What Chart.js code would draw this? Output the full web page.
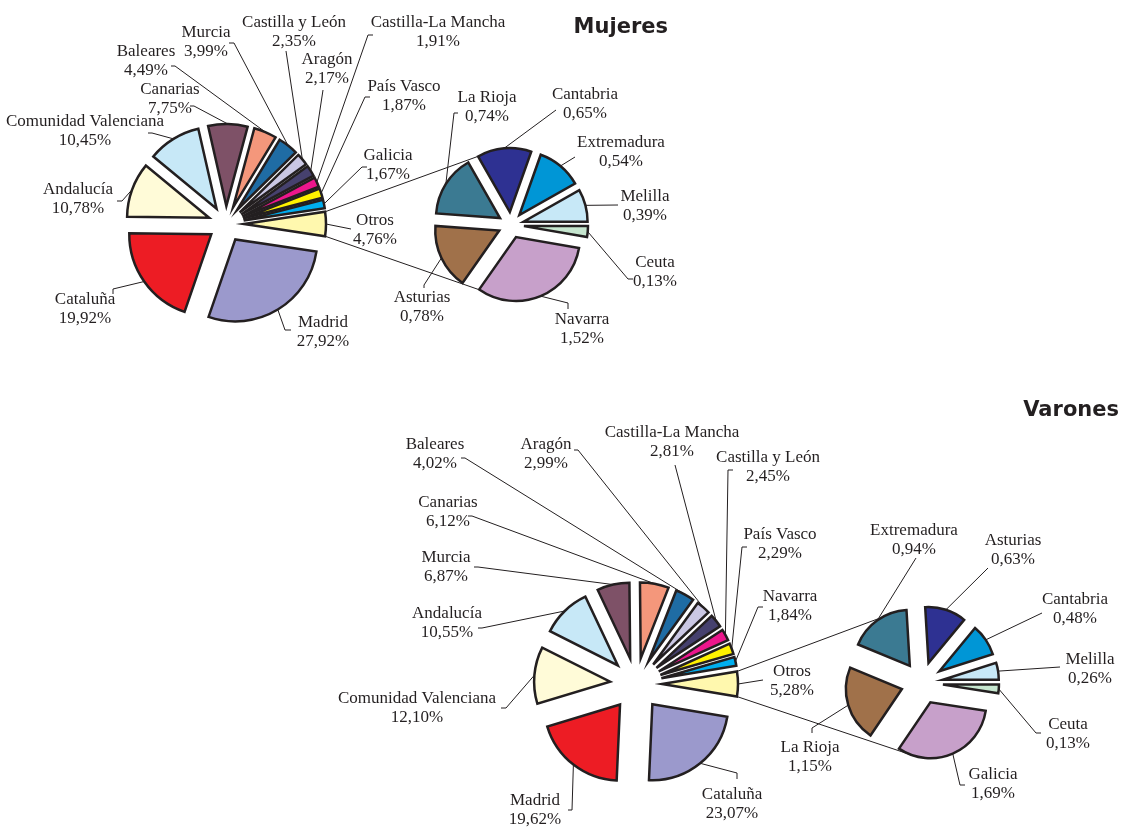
<!DOCTYPE html>
<html><head><meta charset="utf-8">
<script src="https://cdn.jsdelivr.net/npm/chart.js@4.4.1/dist/chart.umd.min.js"></script>
<style>
html,body{margin:0;padding:0;background:#fff;}
#wrap{position:relative;width:1124px;height:831px;overflow:hidden;background:#fff;}
#wrap canvas{position:absolute;left:0;top:0;}
</style></head><body>
<div id="wrap">
<canvas id="c1" width="1124" height="831"></canvas>
<canvas id="c2" width="1124" height="831"></canvas>
<canvas id="c3" width="1124" height="831"></canvas>
<canvas id="c4" width="1124" height="831"></canvas>
</div>
<script>
// ---------- DATA ----------
const mujeresMainLabels = ['Otros','Madrid','Cataluña','Andalucía','Comunidad Valenciana','Canarias','Baleares','Murcia','Castilla y León','Aragón','Castilla-La Mancha','País Vasco','Galicia'];
const mujeresMainValues = [4.76,27.92,19.92,10.78,10.45,7.75,4.49,3.99,2.35,2.17,1.91,1.87,1.67];
const mujeresOtherLabels = ['Ceuta','Navarra','Asturias','La Rioja','Cantabria','Extremadura','Melilla'];
const mujeresOtherValues = [0.13,1.52,0.78,0.74,0.65,0.54,0.39];

const varonesMainLabels = ['Otros','Cataluña','Madrid','Comunidad Valenciana','Andalucía','Murcia','Canarias','Baleares','Aragón','Castilla-La Mancha','Castilla y León','País Vasco','Navarra'];
const varonesMainValues = [5.28,23.07,19.62,12.10,10.55,6.87,6.12,4.02,2.99,2.81,2.45,2.29,1.84];
const varonesOtherLabels = ['Ceuta','Galicia','La Rioja','Extremadura','Asturias','Cantabria','Melilla'];
const varonesOtherValues = [0.13,1.69,1.15,0.94,0.63,0.48,0.26];

const chartTitles = ['Mujeres','Varones'];

// ---------- STYLE ----------
const mainColors = ['#FFF8AE','#9B99CC','#ED1C24','#FFFBD8','#C7E8F7','#7E5167','#F4977B','#1F6CA4','#CAC7E3','#46416E','#EC168C','#FFF200','#00AEEF'];
const otherColors = ['#C6E6CF','#C7A0CA','#A0714A','#3B7A92','#2E3192','#0096D6','#C7E8F7'];
const INK = '#231f20';
const FONT = '17px "Liberation Serif", "Times New Roman", serif';
const LINE = 19;
const W = 1124, H = 831;

const layout = {
  mujeresMain: {cx:226, cy:224, r:82, explode:18, labels:[
    {t:[375,221], e:[351,229], k:[0,0]},
    {t:[323,323], e:[285,330], k:[6,0]},
    {t:[85,300],  e:[113,289], k:[0,5]},
    {t:[78,190],  e:[122,201], k:[-5,0]},
    {t:[85,122],  e:[152,133], k:[-4,0]},
    {t:[170,90],  e:[194,106], k:[-4,0]},
    {t:[146,52],  e:[175,66],  k:[-4,0]},
    {t:[206,33],  e:[234,43],  k:[-5,0]},
    {t:[294,23],  e:[286,51],  k:[0,0]},
    {t:[327,60],  e:[323,90],  k:[0,0]},
    {t:[438,23],  e:[368,35],  k:[5,0]},
    {t:[404,87],  e:[365,97],  k:[5,0]},
    {t:[388,156], e:[362,167], k:[5,0]}
  ]},
  mujeresOther: {cx:511, cy:225, r:64, explode:13, up:241, low:124, labels:[
    {t:[655,263], e:[628,279], k:[5,0]},
    {t:[582,320], e:[568,303], k:[0,6]},
    {t:[422,298], e:[424,285], k:[0,3]},
    {t:[487,98],  e:[454,113], k:[4,0]},
    {t:[585,95],  e:[556,110], k:[0,0]},
    {t:[621,143], e:[575,157], k:[0,0]},
    {t:[645,197], e:[618,205], k:[0,0]}
  ]},
  varonesMain: {cx:636, cy:684, r:76, explode:26, labels:[
    {t:[792,672], e:[763,680], k:[0,0]},
    {t:[732,795], e:[737,773], k:[0,6]},
    {t:[535,801], e:[572,810], k:[-4,0]},
    {t:[417,699], e:[506,708], k:[-5,0]},
    {t:[447,614], e:[482,628], k:[-4,0]},
    {t:[446,558], e:[478,567], k:[-4,0]},
    {t:[448,503], e:[472,516], k:[-4,0]},
    {t:[435,445], e:[465,458], k:[-4,0]},
    {t:[546,445], e:[578,450], k:[-4,0]},
    {t:[672,433], e:[675,465], k:[0,0]},
    {t:[768,458], e:[728,470], k:[5,0]},
    {t:[780,535], e:[742,547], k:[5,0]},
    {t:[790,597], e:[758,607], k:[5,0]}
  ]},
  varonesOther: {cx:922, cy:683, r:56, explode:21, up:240, low:108, labels:[
    {t:[1068,725], e:[1036,733], k:[5,0]},
    {t:[993,775],  e:[960,785],  k:[5,0]},
    {t:[810,748],  e:[812,728],  k:[0,5]},
    {t:[914,531],  e:[916,558],  k:[0,0]},
    {t:[1013,541], e:[988,568],  k:[0,0]},
    {t:[1075,600], e:[1042,613], k:[0,0]},
    {t:[1090,660], e:[1060,667], k:[0,0]}
  ]}
};
const titleLayout = [{x:668, y:33}, {x:1119, y:416}];

const pct = v => v.toFixed(2).replace('.', ',') + '%';

function explodedBase(arc, o) {
  const mid = (arc.startAngle + arc.endAngle) / 2;
  return [arc.x + Math.cos(mid) * o, arc.y + Math.sin(mid) * o];
}

function makeChart(id, labels, values, colors, L, rotation, extra) {
  const S = 100;
  const plugin = {
    id: 'pop_' + id,
    beforeDatasetDraw(chart, args) {
      const ctx = chart.ctx;
      args.meta.data.forEach(arc => {
        const mid = (arc.startAngle + arc.endAngle) / 2;
        ctx.save();
        ctx.translate(Math.cos(mid) * L.explode, Math.sin(mid) * L.explode);
        arc.draw(ctx);
        ctx.restore();
      });
      return false;
    },
    afterDraw(chart) {
      const ctx = chart.ctx;
      const arcs = chart.getDatasetMeta(0).data;
      ctx.save();
      ctx.strokeStyle = INK; ctx.lineWidth = 1;
      arcs.forEach((arc, i) => {
        const lb = L.labels[i];
        const mid = (arc.startAngle + arc.endAngle) / 2;
        const rr = L.explode + arc.outerRadius;
        ctx.beginPath();
        ctx.moveTo(arc.x + Math.cos(mid) * rr, arc.y + Math.sin(mid) * rr);
        ctx.lineTo(lb.e[0], lb.e[1]);
        ctx.lineTo(lb.e[0] + lb.k[0], lb.e[1] + lb.k[1]);
        ctx.stroke();
      });
      ctx.fillStyle = INK; ctx.font = FONT; ctx.textAlign = 'center'; ctx.textBaseline = 'middle';
      arcs.forEach((arc, i) => {
        const lb = L.labels[i];
        ctx.fillText(labels[i], lb.t[0], lb.t[1]);
        ctx.fillText(pct(values[i]), lb.t[0], lb.t[1] + LINE);
      });
      if (extra) extra(chart, ctx);
      ctx.restore();
    }
  };
  return new Chart(document.getElementById(id), {
    type: 'pie',
    data: { labels: labels, datasets: [{ data: values, backgroundColor: colors, borderColor: INK, borderWidth: 2.5, borderJoinStyle: 'miter' }] },
    options: {
      responsive: false, animation: false, devicePixelRatio: 1, events: [],
      rotation: rotation, radius: L.r,
      layout: { padding: { left: L.cx - S, right: W - L.cx - S, top: L.cy - S, bottom: H - L.cy - S } },
      plugins: { legend: { display: false }, tooltip: { enabled: false }, title: { display: false } }
    },
    plugins: [plugin]
  });
}

function connectors(mainChart, Lm, Ls) {
  return (chart, ctx) => {
    const otros = mainChart.getDatasetMeta(0).data[0];
    const b = explodedBase(otros, Lm.explode);
    const r = otros.outerRadius;
    const cUp = [b[0] + Math.cos(otros.startAngle) * r, b[1] + Math.sin(otros.startAngle) * r];
    const cLow = [b[0] + Math.cos(otros.endAngle) * r, b[1] + Math.sin(otros.endAngle) * r];
    const arcs = chart.getDatasetMeta(0).data;
    const pointAt = deg => {
      let a = deg * Math.PI / 180;
      let arc = arcs.find(el => {
        let s = el.startAngle, e = el.endAngle;
        let aa = a; while (aa < s) aa += 2 * Math.PI; while (aa >= s + 2 * Math.PI) aa -= 2 * Math.PI;
        return aa >= s && aa < e;
      }) || arcs[0];
      const bb = explodedBase(arc, Ls.explode);
      return [bb[0] + Math.cos(a) * arc.outerRadius, bb[1] + Math.sin(a) * arc.outerRadius];
    };
    const pUp = pointAt(Ls.up), pLow = pointAt(Ls.low);
    ctx.strokeStyle = INK; ctx.lineWidth = 1;
    ctx.beginPath(); ctx.moveTo(cUp[0], cUp[1]); ctx.lineTo(pUp[0], pUp[1]); ctx.stroke();
    ctx.beginPath(); ctx.moveTo(cLow[0], cLow[1]); ctx.lineTo(pLow[0], pLow[1]); ctx.stroke();
  };
}

function mainRotation(values) {
  const tot = values.reduce((a, b) => a + b, 0);
  return 90 - values[0] / tot * 180;
}

const titlesDraw = (chart, ctx) => {
  ctx.fillStyle = INK; ctx.font = 'bold 21px "DejaVu Sans", Verdana, sans-serif';
  ctx.textAlign = 'right'; ctx.textBaseline = 'alphabetic';
  chartTitles.forEach((t, i) => ctx.fillText(t, titleLayout[i].x, titleLayout[i].y));
};

const mMain = makeChart('c1', mujeresMainLabels, mujeresMainValues, mainColors, layout.mujeresMain, mainRotation(mujeresMainValues), titlesDraw);
const mOther = makeChart('c2', mujeresOtherLabels, mujeresOtherValues, otherColors, layout.mujeresOther, 90, connectors(mMain, layout.mujeresMain, layout.mujeresOther));
const vMain = makeChart('c3', varonesMainLabels, varonesMainValues, mainColors, layout.varonesMain, mainRotation(varonesMainValues), null);
const vOther = makeChart('c4', varonesOtherLabels, varonesOtherValues, otherColors, layout.varonesOther, 90, connectors(vMain, layout.varonesMain, layout.varonesOther));
</script>
</body></html>
